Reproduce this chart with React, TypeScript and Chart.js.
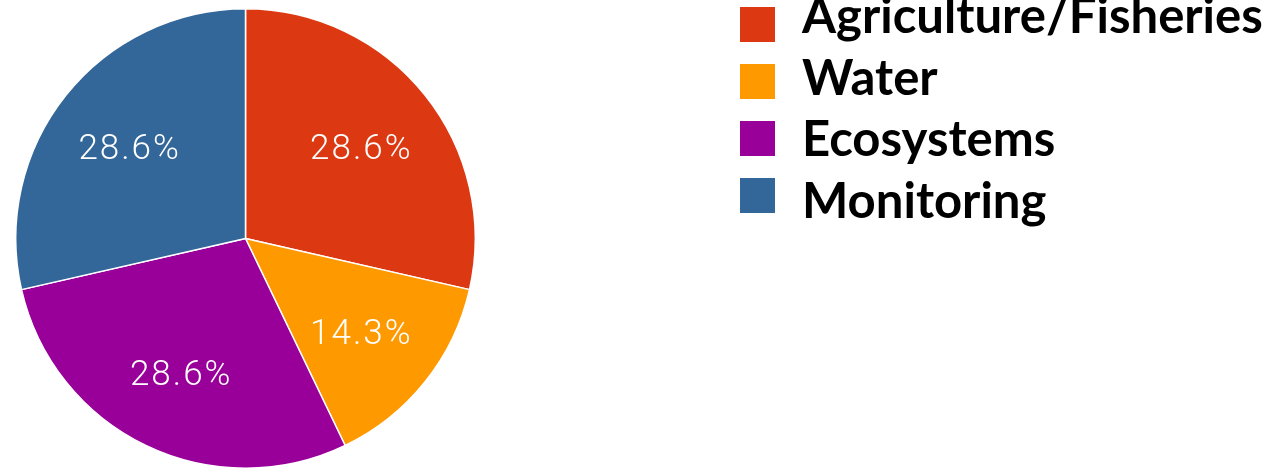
import React, { useEffect, useRef } from "react";
import { Chart, registerables } from "chart.js";

Chart.register(...registerables);

const categories = ["Agriculture/Fisheries", "Water", "Ecosystems", "Monitoring"];
const counts = [2, 1, 2, 2];
const colors = ["#DC3912", "#FF9900", "#990099", "#336699"];

const pieLabelPlugin = {
  id: "pieLabels",
  afterDatasetsDraw(chart: any) {
    const ctx = chart.ctx;
    const meta = chart.getDatasetMeta(0);
    const data = chart.data.datasets[0].data as number[];
    const total = data.reduce((a, b) => a + b, 0);
    ctx.save();
    ctx.fillStyle = "#ffffff";
    ctx.font = "300 35px Roboto, 'Liberation Sans', sans-serif";
    (ctx as any).letterSpacing = "2px";
    ctx.textAlign = "center";
    ctx.textBaseline = "middle";
    meta.data.forEach((arc: any, i: number) => {
      const { x, y, startAngle, endAngle, outerRadius } = arc.getProps(
        ["x", "y", "startAngle", "endAngle", "outerRadius"],
        true
      );
      const mid = (startAngle + endAngle) / 2;
      const r = outerRadius * 0.645;
      const pct = ((data[i] / total) * 100).toFixed(1) + "%";
      ctx.fillText(pct, x + Math.cos(mid) * r, y + Math.sin(mid) * r + 4);
    });
    ctx.restore();
  },
};

const legendPlugin = {
  id: "sideLegend",
  afterDraw(chart: any) {
    const ctx = chart.ctx;
    ctx.save();
    const boxX = 740;
    const boxSize = 35;
    const boxTop0 = 7;
    const boxStep = 57;
    const textX = 802;
    const base0 = 33;
    const textStep = 61.7;
    const fam = "Lato, 'Open Sans', sans-serif";
    ctx.font = `bold 42px ${fam}`;
    const w = ctx.measureText(categories[0]).width;
    const size = (42 * 461) / w;
    ctx.font = `bold ${size}px ${fam}`;
    ctx.textAlign = "left";
    ctx.textBaseline = "alphabetic";
    categories.forEach((label, i) => {
      ctx.fillStyle = colors[i];
      ctx.fillRect(boxX, boxTop0 + i * boxStep, boxSize, boxSize);
      ctx.fillStyle = "#000000";
      ctx.fillText(label, textX, base0 + i * textStep);
    });
    ctx.restore();
  },
};

export default function App() {
  const canvasRef = useRef<HTMLCanvasElement | null>(null);

  useEffect(() => {
    if (!canvasRef.current) return;
    const chart = new Chart(canvasRef.current, {
      type: "pie",
      data: {
        labels: categories,
        datasets: [
          {
            data: counts,
            backgroundColor: colors,
            borderColor: "#ffffff",
            borderWidth: 1.5,
          },
        ],
      },
      options: {
        responsive: false,
        animation: false,
        layout: { padding: { left: 15, top: 8, right: 810, bottom: 1 } },
        plugins: {
          legend: { display: false },
          tooltip: { enabled: false },
          title: { display: false },
        },
      },
      plugins: [pieLabelPlugin, legendPlugin],
    });
    return () => chart.destroy();
  }, []);

  return (
    <div style={{ position: "fixed", left: 0, top: 0, width: 1286, height: 470, background: "#ffffff" }}>
      <canvas ref={canvasRef} width={1286} height={470} style={{ width: 1286, height: 470 }} />
    </div>
  );
}
